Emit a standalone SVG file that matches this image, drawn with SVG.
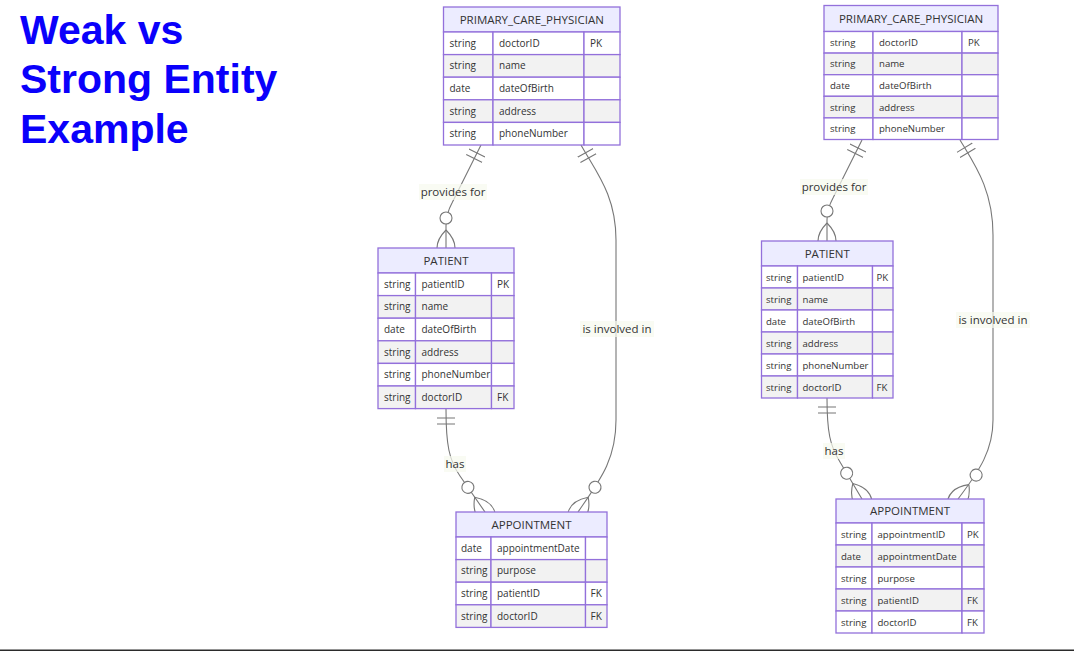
<svg xmlns="http://www.w3.org/2000/svg" width="1074" height="651" viewBox="0 0 1074 651">
<style>
.hdr{fill:#ECECFF;stroke:#9370DB;stroke-width:1.3}
.odd{fill:#ffffff;stroke:#9370DB;stroke-width:1.3}
.even{fill:#f2f2f2;stroke:#9370DB;stroke-width:1.3}
text{font-family:"Open Sans","Noto Sans",sans-serif;fill:#333}
.t{font-size:10px}
.t2{font-size:9.6px}
.ht{font-size:11.5px;text-anchor:middle}
.rel{stroke:#777;fill:none;stroke-width:1.1}
.mk{stroke:#777;stroke-width:1.1;fill:none}
.mc{stroke:#777;stroke-width:1.1;fill:#fff}
.lblbg{fill:#f6faee;opacity:0.7}
.lbl{font-size:11.5px;text-anchor:middle}
.title{font-family:"Liberation Sans",Arial,sans-serif;font-weight:bold;font-size:41px;fill:#0a00fb}
</style>
<defs>
<marker id="onlyOne" refX="0" refY="9" markerWidth="18" markerHeight="18" orient="auto" markerUnits="userSpaceOnUse"><path class="mk" d="M9,0 L9,18 M15,0 L15,18"/></marker>
<marker id="zeroMany" refX="39" refY="18" markerWidth="57" markerHeight="36" orient="auto" markerUnits="userSpaceOnUse"><circle class="mc" cx="9" cy="18" r="6"/><path class="mk" d="M21,18 Q39,0 57,18 Q39,36 21,18"/></marker>
</defs>
<rect width="1074" height="651" fill="#fff"/>
<g id="title">
<text class="title" x="20" y="43.5">Weak vs</text>
<text class="title" x="20" y="93">Strong Entity</text>
<text class="title" x="20" y="143">Example</text>
</g>
<g id="connectors">
<path class="rel" d="M481,145 L452,203 Q446,214 446,226 L446,248" marker-start="url(#onlyOne)" marker-end="url(#zeroMany)"/>
<path class="rel" d="M581,145 C596,172 616,195 616,240 L616,420 C616,460 600,480 578,512" marker-start="url(#onlyOne)" marker-end="url(#zeroMany)"/>
<path class="rel" d="M446,409 C446,445 449,460 460,476 L485,512" marker-start="url(#onlyOne)" marker-end="url(#zeroMany)"/>
<path class="rel" d="M862,140 L833,198 Q827,209 827,220 L827,241" marker-start="url(#onlyOne)" marker-end="url(#zeroMany)"/>
<path class="rel" d="M960,140 C975,165 993,190 993,235 L993,420 C993,450 980,470 958,499" marker-start="url(#onlyOne)" marker-end="url(#zeroMany)"/>
<path class="rel" d="M827,398 C827,432 830,446 840,462 L862,499" marker-start="url(#onlyOne)" marker-end="url(#zeroMany)"/>
<rect class="lblbg" x="419" y="184" width="68" height="16"/>
<text class="lbl" x="453" y="196">provides for</text>
<rect class="lblbg" x="580" y="321" width="74" height="16"/>
<text class="lbl" x="617" y="333">is involved in</text>
<rect class="lblbg" x="444" y="456" width="22" height="16"/>
<text class="lbl" x="455" y="468">has</text>
<rect class="lblbg" x="800" y="179" width="68" height="16"/>
<text class="lbl" x="834" y="191">provides for</text>
<rect class="lblbg" x="956" y="312" width="74" height="16"/>
<text class="lbl" x="993" y="324">is involved in</text>
<rect class="lblbg" x="823" y="443" width="22" height="16"/>
<text class="lbl" x="834" y="455">has</text>
</g>
<g id="pcp1">
<rect class="hdr" x="443.5" y="7" width="176.5" height="25"/>
<text class="ht" x="531.75" y="23.5">PRIMARY_CARE_PHYSICIAN</text>
<rect class="odd" x="443.5" y="32" width="49.5" height="22.6"/><rect class="odd" x="493" y="32" width="91" height="22.6"/><rect class="odd" x="584" y="32" width="36" height="22.6"/>
<rect class="even" x="443.5" y="54.6" width="49.5" height="22.6"/><rect class="even" x="493" y="54.6" width="91" height="22.6"/><rect class="even" x="584" y="54.6" width="36" height="22.6"/>
<rect class="odd" x="443.5" y="77.2" width="49.5" height="22.6"/><rect class="odd" x="493" y="77.2" width="91" height="22.6"/><rect class="odd" x="584" y="77.2" width="36" height="22.6"/>
<rect class="even" x="443.5" y="99.8" width="49.5" height="22.6"/><rect class="even" x="493" y="99.8" width="91" height="22.6"/><rect class="even" x="584" y="99.8" width="36" height="22.6"/>
<rect class="odd" x="443.5" y="122.4" width="49.5" height="22.6"/><rect class="odd" x="493" y="122.4" width="91" height="22.6"/><rect class="odd" x="584" y="122.4" width="36" height="22.6"/>
<text class="t" x="449.5" y="46.8">string</text><text class="t" x="499" y="46.8">doctorID</text><text class="t" x="590" y="46.8">PK</text>
<text class="t" x="449.5" y="69.4">string</text><text class="t" x="499" y="69.4">name</text>
<text class="t" x="449.5" y="92">date</text><text class="t" x="499" y="92">dateOfBirth</text>
<text class="t" x="449.5" y="114.6">string</text><text class="t" x="499" y="114.6">address</text>
<text class="t" x="449.5" y="137.2">string</text><text class="t" x="499" y="137.2">phoneNumber</text>
</g>
<g id="patient1">
<rect class="hdr" x="378" y="248" width="136" height="25"/>
<text class="ht" x="446" y="264.5">PATIENT</text>
<rect class="odd" x="378" y="273" width="37.5" height="22.6"/><rect class="odd" x="415.5" y="273" width="76" height="22.6"/><rect class="odd" x="491.5" y="273" width="22.5" height="22.6"/>
<rect class="even" x="378" y="295.6" width="37.5" height="22.6"/><rect class="even" x="415.5" y="295.6" width="76" height="22.6"/><rect class="even" x="491.5" y="295.6" width="22.5" height="22.6"/>
<rect class="odd" x="378" y="318.2" width="37.5" height="22.6"/><rect class="odd" x="415.5" y="318.2" width="76" height="22.6"/><rect class="odd" x="491.5" y="318.2" width="22.5" height="22.6"/>
<rect class="even" x="378" y="340.8" width="37.5" height="22.6"/><rect class="even" x="415.5" y="340.8" width="76" height="22.6"/><rect class="even" x="491.5" y="340.8" width="22.5" height="22.6"/>
<rect class="odd" x="378" y="363.4" width="37.5" height="22.6"/><rect class="odd" x="415.5" y="363.4" width="76" height="22.6"/><rect class="odd" x="491.5" y="363.4" width="22.5" height="22.6"/>
<rect class="even" x="378" y="386" width="37.5" height="22.6"/><rect class="even" x="415.5" y="386" width="76" height="22.6"/><rect class="even" x="491.5" y="386" width="22.5" height="22.6"/>
<text class="t" x="384" y="287.8">string</text><text class="t" x="421.5" y="287.8">patientID</text><text class="t" x="497" y="287.8">PK</text>
<text class="t" x="384" y="310.4">string</text><text class="t" x="421.5" y="310.4">name</text>
<text class="t" x="384" y="333">date</text><text class="t" x="421.5" y="333">dateOfBirth</text>
<text class="t" x="384" y="355.6">string</text><text class="t" x="421.5" y="355.6">address</text>
<text class="t" x="384" y="378.2">string</text><text class="t" x="421.5" y="378.2">phoneNumber</text>
<text class="t" x="384" y="400.8">string</text><text class="t" x="421.5" y="400.8">doctorID</text><text class="t" x="497" y="400.8">FK</text>
</g>
<g id="appt1">
<rect class="hdr" x="456" y="512" width="151" height="25"/>
<text class="ht" x="531.5" y="528.5">APPOINTMENT</text>
<rect class="odd" x="456" y="537" width="35" height="22.6"/><rect class="odd" x="491" y="537" width="94.5" height="22.6"/><rect class="odd" x="585.5" y="537" width="21.5" height="22.6"/>
<rect class="even" x="456" y="559.6" width="35" height="22.6"/><rect class="even" x="491" y="559.6" width="94.5" height="22.6"/><rect class="even" x="585.5" y="559.6" width="21.5" height="22.6"/>
<rect class="odd" x="456" y="582.2" width="35" height="22.6"/><rect class="odd" x="491" y="582.2" width="94.5" height="22.6"/><rect class="odd" x="585.5" y="582.2" width="21.5" height="22.6"/>
<rect class="even" x="456" y="604.8" width="35" height="22.6"/><rect class="even" x="491" y="604.8" width="94.5" height="22.6"/><rect class="even" x="585.5" y="604.8" width="21.5" height="22.6"/>
<text class="t" x="461" y="551.8">date</text><text class="t" x="497" y="551.8">appointmentDate</text>
<text class="t" x="461" y="574.4">string</text><text class="t" x="497" y="574.4">purpose</text>
<text class="t" x="461" y="597">string</text><text class="t" x="497" y="597">patientID</text><text class="t" x="590.5" y="597">FK</text>
<text class="t" x="461" y="619.6">string</text><text class="t" x="497" y="619.6">doctorID</text><text class="t" x="590.5" y="619.6">FK</text>
</g>
<g id="pcp2">
<rect class="hdr" x="824" y="5.5" width="174" height="26"/>
<text class="ht" x="911" y="22.5">PRIMARY_CARE_PHYSICIAN</text>
<rect class="odd" x="824" y="31.5" width="49" height="21.6"/><rect class="odd" x="873" y="31.5" width="89" height="21.6"/><rect class="odd" x="962" y="31.5" width="36" height="21.6"/>
<rect class="even" x="824" y="53.1" width="49" height="21.6"/><rect class="even" x="873" y="53.1" width="89" height="21.6"/><rect class="even" x="962" y="53.1" width="36" height="21.6"/>
<rect class="odd" x="824" y="74.7" width="49" height="21.6"/><rect class="odd" x="873" y="74.7" width="89" height="21.6"/><rect class="odd" x="962" y="74.7" width="36" height="21.6"/>
<rect class="even" x="824" y="96.3" width="49" height="21.6"/><rect class="even" x="873" y="96.3" width="89" height="21.6"/><rect class="even" x="962" y="96.3" width="36" height="21.6"/>
<rect class="odd" x="824" y="117.9" width="49" height="21.6"/><rect class="odd" x="873" y="117.9" width="89" height="21.6"/><rect class="odd" x="962" y="117.9" width="36" height="21.6"/>
<text class="t2" x="830" y="45.8">string</text><text class="t2" x="879" y="45.8">doctorID</text><text class="t2" x="968" y="45.8">PK</text>
<text class="t2" x="830" y="67.4">string</text><text class="t2" x="879" y="67.4">name</text>
<text class="t2" x="830" y="89">date</text><text class="t2" x="879" y="89">dateOfBirth</text>
<text class="t2" x="830" y="110.6">string</text><text class="t2" x="879" y="110.6">address</text>
<text class="t2" x="830" y="132.2">string</text><text class="t2" x="879" y="132.2">phoneNumber</text>
</g>
<g id="patient2">
<rect class="hdr" x="761.5" y="241" width="131.5" height="25"/>
<text class="ht" x="827.25" y="257.5">PATIENT</text>
<rect class="odd" x="761.5" y="266" width="36" height="22"/><rect class="odd" x="797.5" y="266" width="75" height="22"/><rect class="odd" x="872.5" y="266" width="20.5" height="22"/>
<rect class="even" x="761.5" y="288" width="36" height="22"/><rect class="even" x="797.5" y="288" width="75" height="22"/><rect class="even" x="872.5" y="288" width="20.5" height="22"/>
<rect class="odd" x="761.5" y="310" width="36" height="22"/><rect class="odd" x="797.5" y="310" width="75" height="22"/><rect class="odd" x="872.5" y="310" width="20.5" height="22"/>
<rect class="even" x="761.5" y="332" width="36" height="22"/><rect class="even" x="797.5" y="332" width="75" height="22"/><rect class="even" x="872.5" y="332" width="20.5" height="22"/>
<rect class="odd" x="761.5" y="354" width="36" height="22"/><rect class="odd" x="797.5" y="354" width="75" height="22"/><rect class="odd" x="872.5" y="354" width="20.5" height="22"/>
<rect class="even" x="761.5" y="376" width="36" height="22"/><rect class="even" x="797.5" y="376" width="75" height="22"/><rect class="even" x="872.5" y="376" width="20.5" height="22"/>
<text class="t2" x="766" y="280.5">string</text><text class="t2" x="802.5" y="280.5">patientID</text><text class="t2" x="876.5" y="280.5">PK</text>
<text class="t2" x="766" y="302.5">string</text><text class="t2" x="802.5" y="302.5">name</text>
<text class="t2" x="766" y="324.5">date</text><text class="t2" x="802.5" y="324.5">dateOfBirth</text>
<text class="t2" x="766" y="346.5">string</text><text class="t2" x="802.5" y="346.5">address</text>
<text class="t2" x="766" y="368.5">string</text><text class="t2" x="802.5" y="368.5">phoneNumber</text>
<text class="t2" x="766" y="390.5">string</text><text class="t2" x="802.5" y="390.5">doctorID</text><text class="t2" x="876.5" y="390.5">FK</text>
</g>
<g id="appt2">
<rect class="hdr" x="836" y="499" width="148" height="24"/>
<text class="ht" x="910" y="515">APPOINTMENT</text>
<rect class="odd" x="836" y="523" width="36" height="22"/><rect class="odd" x="872" y="523" width="90" height="22"/><rect class="odd" x="962" y="523" width="22" height="22"/>
<rect class="even" x="836" y="545" width="36" height="22"/><rect class="even" x="872" y="545" width="90" height="22"/><rect class="even" x="962" y="545" width="22" height="22"/>
<rect class="odd" x="836" y="567" width="36" height="22"/><rect class="odd" x="872" y="567" width="90" height="22"/><rect class="odd" x="962" y="567" width="22" height="22"/>
<rect class="even" x="836" y="589" width="36" height="22"/><rect class="even" x="872" y="589" width="90" height="22"/><rect class="even" x="962" y="589" width="22" height="22"/>
<rect class="odd" x="836" y="611" width="36" height="22"/><rect class="odd" x="872" y="611" width="90" height="22"/><rect class="odd" x="962" y="611" width="22" height="22"/>
<text class="t2" x="841" y="537.5">string</text><text class="t2" x="877.5" y="537.5">appointmentID</text><text class="t2" x="967" y="537.5">PK</text>
<text class="t2" x="841" y="559.5">date</text><text class="t2" x="877.5" y="559.5">appointmentDate</text>
<text class="t2" x="841" y="581.5">string</text><text class="t2" x="877.5" y="581.5">purpose</text>
<text class="t2" x="841" y="603.5">string</text><text class="t2" x="877.5" y="603.5">patientID</text><text class="t2" x="967" y="603.5">FK</text>
<text class="t2" x="841" y="625.5">string</text><text class="t2" x="877.5" y="625.5">doctorID</text><text class="t2" x="967" y="625.5">FK</text>
</g>
<rect id="baseline" x="0" y="649.5" width="1074" height="1.5" fill="#2b2b2b"/>
</svg>
